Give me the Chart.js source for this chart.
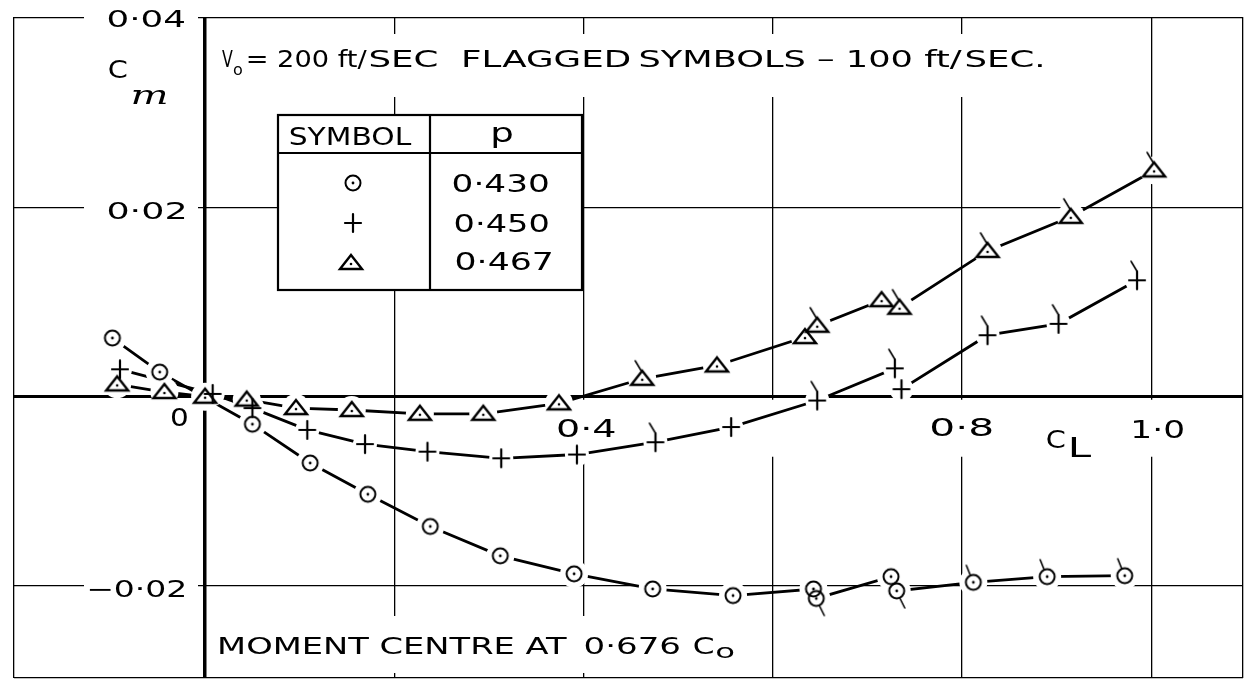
<!DOCTYPE html>
<html>
<head>
<meta charset="utf-8">
<title>Cm against CL</title>
<script src="https://cdn.jsdelivr.net/npm/chart.js@4.4.1/dist/chart.umd.min.js"></script>
<style>
  html, body { margin: 0; padding: 0; background: #fff; }
  #chart { display: block; }
</style>
</head>
<body>
<canvas id="chart" width="1257" height="692"></canvas>
<script>
// p = 0.430 (circles)
const circleCL = [-0.098, -0.048, 0.050, 0.111, 0.172, 0.238, 0.312, 0.390, 0.473, 0.558, 0.643, 0.646, 0.725, 0.731, 0.812, 0.890, 0.972];
const circleCm = [0.0062, 0.0026, -0.0029, -0.0070, -0.0103, -0.0137, -0.0168, -0.0187, -0.0203, -0.0210, -0.0203, -0.0213, -0.0190, -0.0205, -0.0196, -0.0190, -0.0189];
const circleSpeed = [200, 200, 200, 200, 200, 200, 200, 200, 200, 200, 200, 100, 200, 100, 100, 100, 100];

// p = 0.450 (crosses)
const plusCL = [-0.090, 0.008, 0.050, 0.108, 0.169, 0.235, 0.313, 0.393, 0.476, 0.556, 0.647, 0.729, 0.736, 0.827, 0.902, 0.985];
const plusCm = [0.0029, 0.0003, -0.0012, -0.0035, -0.0050, -0.0058, -0.0065, -0.0061, -0.0048, -0.0032, -0.0004, 0.0030, 0.0008, 0.0065, 0.0077, 0.0123];
const plusSpeed = [200, 200, 200, 200, 200, 200, 200, 200, 100, 200, 100, 100, 200, 100, 100, 100];

// p = 0.467 (triangles)
const triCL = [-0.093, -0.043, 0.000, 0.044, 0.096, 0.155, 0.227, 0.294, 0.374, 0.462, 0.541, 0.634, 0.647, 0.715, 0.734, 0.827, 0.915, 1.003];
const triCm = [0.0013, 0.0005, 0.0000, -0.0003, -0.0012, -0.0014, -0.0018, -0.0018, -0.0007, 0.0019, 0.0033, 0.0063, 0.0075, 0.0102, 0.0094, 0.0154, 0.0190, 0.0239];
const triSpeed = [200, 200, 200, 200, 200, 200, 200, 200, 200, 100, 200, 200, 100, 200, 100, 100, 100, 100];

const xGrid = [0, 0.2, 0.4, 0.6, 0.8, 1.0];
const yGrid = [-0.02, 0, 0.02, 0.04];
const xLabelValues = [0, 0.4, 0.8, 1.0];
const xLabelText = ['0', '0·4', '0·8', '1·0'];
const yLabelValues = [0.04, 0.02, -0.02];
const yLabelText = ['0·04', '0·02', '−0·02'];
const tableP = ['0·430', '0·450', '0·467'];

const FONT = '"DejaVu Sans", sans-serif';

// draw lettering scaled to the width it takes on the drawing
function fitText(ctx, text, left, base, width, size, family, style) {
  ctx.save();
  ctx.font = (style ? style + ' ' : '') + size + 'px ' + (family || FONT);
  ctx.textAlign = 'left';
  ctx.textBaseline = 'alphabetic';
  ctx.fillStyle = '#000';
  const m = ctx.measureText(text);
  const ink = m.actualBoundingBoxLeft + m.actualBoundingBoxRight;
  ctx.translate(left, base);
  ctx.scale(width / ink, 1);
  ctx.fillText(text, m.actualBoundingBoxLeft, 0);
  ctx.restore();
}

function drawGlyph(ctx, kind, cx, cy, flag) {
  ctx.save();
  ctx.strokeStyle = '#000';
  ctx.fillStyle = '#000';
  ctx.lineCap = 'round';
  if (kind === 'circle') {
    ctx.lineWidth = 2;
    ctx.beginPath(); ctx.arc(cx, cy, 7.5, 0, Math.PI * 2); ctx.stroke();
    ctx.beginPath(); ctx.arc(cx, cy, 1.4, 0, Math.PI * 2); ctx.fill();
    ctx.lineWidth = 1.6;
    if (flag === 'up') { ctx.beginPath(); ctx.moveTo(cx - 3, cy - 7); ctx.lineTo(cx - 7, cy - 17); ctx.stroke(); }
    if (flag === 'down') { ctx.beginPath(); ctx.moveTo(cx + 3, cy + 7); ctx.lineTo(cx + 8, cy + 17); ctx.stroke(); }
  } else if (kind === 'plus') {
    ctx.lineWidth = 2.2;
    ctx.beginPath();
    ctx.moveTo(cx - 8, cy); ctx.lineTo(cx + 8, cy);
    ctx.moveTo(cx, cy - 9); ctx.lineTo(cx, cy + 9);
    ctx.stroke();
    ctx.lineWidth = 1.6;
    if (flag) { ctx.beginPath(); ctx.moveTo(cx, cy - 9); ctx.lineTo(cx - 6, cy - 19); ctx.stroke(); }
  } else {
    ctx.lineWidth = 2.4;
    ctx.lineJoin = 'miter';
    ctx.beginPath();
    ctx.moveTo(cx, cy - 8); ctx.lineTo(cx + 11, cy + 6); ctx.lineTo(cx - 11, cy + 6); ctx.closePath();
    ctx.stroke();
    ctx.beginPath(); ctx.arc(cx, cy + 1, 1.3, 0, Math.PI * 2); ctx.fill();
    ctx.lineWidth = 1.6;
    if (flag) { ctx.beginPath(); ctx.moveTo(cx - 1, cy - 8); ctx.lineTo(cx - 7, cy - 18); ctx.stroke(); }
  }
  ctx.restore();
}

function makeGlyph(kind, flag) {
  const c = document.createElement('canvas');
  c.width = 48; c.height = 48;
  drawGlyph(c.getContext('2d'), kind, 24, 24, flag);
  return c;
}

const glyphs = {};
['circle', 'plus', 'triangle'].forEach(k => {
  glyphs[k] = { plain: makeGlyph(k, null), up: makeGlyph(k, 'up'), down: makeGlyph(k, 'down') };
});
// the pen lifts a little before each symbol
const HALO = { circle: 14, plus: 12, triangle: 14 };

// flagged symbols are the 100 ft/sec points
function glyphFor(kind, c) {
  const pts = c.dataset.data;
  const p = pts[c.dataIndex];
  if (!p || p.v !== 100) return glyphs[kind].plain;
  const prev = pts[c.dataIndex - 1];
  const down = prev && Math.abs(prev.x - p.x) < 0.01 && p.y < prev.y;
  return down ? glyphs[kind].down : glyphs[kind].up;
}

function points(xs, ys, speeds) {
  return xs.map((x, i) => ({ x: x, y: ys[i], v: speeds[i] }));
}

const series = [
  { kind: 'circle', data: points(circleCL, circleCm, circleSpeed) },
  { kind: 'plus', data: points(plusCL, plusCm, plusSpeed) },
  { kind: 'triangle', data: points(triCL, triCm, triSpeed) }
];

const datasets = [];
series.forEach(s => {
  datasets.push({
    label: s.kind + ' curve', data: s.data, showLine: true, pointRadius: 0,
    borderColor: '#000', borderWidth: 2.8, tension: 0, order: 3
  });
  datasets.push({
    label: s.kind + ' gap', data: s.data, showLine: false, pointStyle: 'circle',
    pointRadius: HALO[s.kind], pointBackgroundColor: '#fff', pointBorderWidth: 0, order: 2
  });
  datasets.push({
    label: s.kind, data: s.data, showLine: false, pointRadius: 9,
    pointStyle: c => glyphFor(s.kind, c), order: 1
  });
});

const paperPlugin = {
  id: 'paper',
  beforeDatasetsDraw(chart) {
    const ctx = chart.ctx;
    const px = v => chart.scales.x.getPixelForValue(v);
    const py = v => chart.scales.y.getPixelForValue(v);
    const y0 = py(0);
    ctx.save();

    // white gaps where the lettering breaks the grid
    ctx.fillStyle = '#fff';
    yLabelValues.forEach(v => ctx.fillRect(84, py(v) - 13, 114, 26));
    ctx.fillRect(px(0.36), y0 + 3, px(1.05) - px(0.36), 57);
    ctx.fillRect(212, 34, 845, 63);
    ctx.fillRect(212, 616, 535, 57);

    // axis figures
    const yLeft = [108, 108, 89], yWidth = [77, 77, 96], yBase = [9, 12, 11];
    yLabelText.forEach((t, i) => fitText(ctx, t, yLeft[i], py(yLabelValues[i]) + yBase[i], yWidth[i], 23));
    const xOff = [-34, -26, -31, -18], xWidth = [16, 57, 61, 50], xBase = [29, 40, 39, 41];
    xLabelText.forEach((t, i) => fitText(ctx, t, px(xLabelValues[i]) + xOff[i], y0 + xBase[i], xWidth[i], 24));

    // axis names
    fitText(ctx, 'C', 1047, 448, 18, 24);
    fitText(ctx, 'L', 1071, 457, 21, 26);
    fitText(ctx, 'C', 109, 78, 18, 24);
    fitText(ctx, 'm', 132, 104, 34, 26, '"DejaVu Serif", serif', 'italic');

    // heading
    fitText(ctx, 'V', 222, 67, 11, 23);
    fitText(ctx, 'o', 233, 75, 9, 16);
    fitText(ctx, '= 200 ft/', 248, 67, 119, 23);
    fitText(ctx, 'SEC  FLAGGED', 370, 67, 260, 23);
    fitText(ctx, 'SYMBOLS – 100 ft/', 640, 67, 322, 23);
    fitText(ctx, 'SEC.', 966, 67, 76, 23);

    // moment centre note
    fitText(ctx, 'MOMENT CENTRE AT', 220, 654, 348, 23);
    fitText(ctx, '0·676', 585, 654, 95, 23);
    fitText(ctx, 'C', 694, 654, 19, 23);
    fitText(ctx, 'o', 717, 658, 17, 19);

    // symbol table
    ctx.fillStyle = '#fff';
    ctx.fillRect(278, 115, 304, 175);
    ctx.strokeStyle = '#000';
    ctx.lineWidth = 2.2;
    ctx.strokeRect(278, 115, 304, 175);
    ctx.beginPath();
    ctx.moveTo(278, 153); ctx.lineTo(582, 153);
    ctx.moveTo(430, 115); ctx.lineTo(430, 290);
    ctx.stroke();
    fitText(ctx, 'SYMBOL', 290, 145, 122, 24);
    fitText(ctx, 'p', 493, 142, 20, 26);
    const rowBase = [192, 232, 270], rowLeft = [453, 455, 456], rowW = [95, 93, 96];
    tableP.forEach((t, i) => fitText(ctx, t, rowLeft[i], rowBase[i], rowW[i], 24));
    drawGlyph(ctx, 'circle', 353, 183, null);
    drawGlyph(ctx, 'plus', 353, 223, null);
    drawGlyph(ctx, 'triangle', 351, 263, null);

    ctx.restore();
  }
};

new Chart(document.getElementById('chart'), {
  type: 'scatter',
  data: { datasets: datasets },
  options: {
    responsive: false,
    animation: false,
    layout: { padding: { left: 8, right: 7, top: 17, bottom: 1 } },
    plugins: { legend: { display: false }, tooltip: { enabled: false } },
    scales: {
      x: {
        type: 'linear', min: -0.202, max: 1.097,
        afterBuildTicks: s => { s.ticks = [s.min].concat(xGrid, [s.max]).map(v => ({ value: v })); },
        ticks: { display: false },
        grid: { color: '#000', drawTicks: false, lineWidth: c => (c.tick && c.tick.value === 0 ? 3.5 : 1.3) },
        border: { display: false }
      },
      y: {
        type: 'linear', min: -0.0297, max: 0.0401,
        afterBuildTicks: s => { s.ticks = [s.min].concat(yGrid).map(v => ({ value: v })); },
        ticks: { display: false },
        grid: { color: '#000', drawTicks: false, lineWidth: c => (c.tick && c.tick.value === 0 ? 3 : 1.3) },
        border: { display: false }
      }
    }
  },
  plugins: [paperPlugin]
});
</script>
</body>
</html>
